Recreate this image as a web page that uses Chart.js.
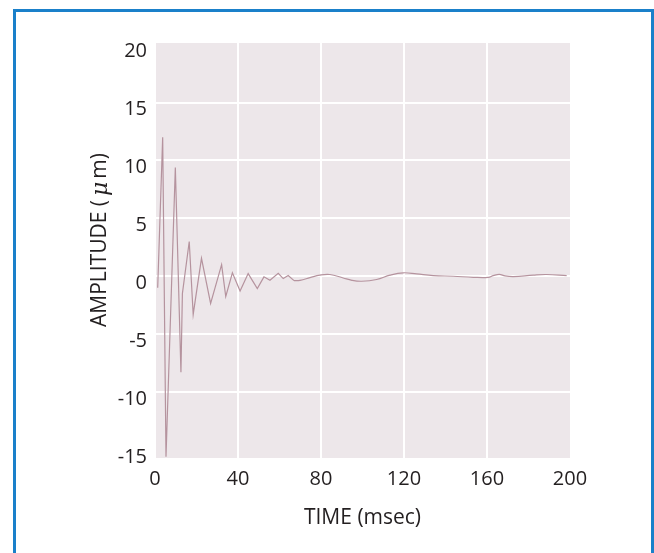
<!DOCTYPE html>
<html>
<head>
<meta charset="utf-8">
<script src="https://cdn.jsdelivr.net/npm/chart.js@4.4.1/dist/chart.umd.min.js"></script>
<style>
html,body{margin:0;padding:0;background:#fff;}
#wrap{position:relative;width:654px;height:553px;overflow:hidden;}
#frame{position:absolute;left:13px;top:9px;width:641px;height:620px;box-sizing:border-box;border:3px solid #1a80ca;}
#chart{position:absolute;left:0;top:0;}
</style>
</head>
<body>
<div id="wrap">
<div id="frame"></div>
<canvas id="chart" width="654" height="553"></canvas>
</div>
<script>

/* ---- data ---- */

// ringing part (sharp zigzag)
let ringTime = [1.3,3.7,5.3,9.8,12.5,13.2,16.5,18.4,22.4,26.8,32.1,34.1,37.3,41.0,44.9,49.3,52.5,55.4,59.4,61.8,64.2,67.0];
let ringAmp  = [-1.0,12.0,-15.6,9.4,-8.3,-1.5,3.0,-3.3,1.55,-2.35,1.0,-1.75,0.3,-1.27,0.23,-1.06,-0.05,-0.35,0.26,-0.2,0.06,-0.38];

// slow tail (smooth)
let tailTime = [67.0,69.9,74.7,79.5,84.3,90.7,94.9,99.6,106.8,113.3,119.7,126.1,134.1,143.8,153.4,160.6,163.0,165.9,168.7,172.7,182.3,188.7,198.4];
let tailAmp  = [-0.38,-0.35,-0.12,0.1,0.15,-0.15,-0.35,-0.43,-0.28,0.1,0.3,0.2,0.06,0.0,-0.09,-0.1,0.05,0.17,0.03,-0.03,0.1,0.15,0.06];

let xTicks = [0,40,80,120,160,200];
let yTicks = [-15,-10,-5,0,5,10,15,20];

let xTitle = "TIME (msec)";
let yTitleParts = ["AMPLITUDE (","\u03bc","m)"];

/* ---- helpers ---- */

function toPoints(xs,ys){
return xs.map((x,i)=>({x:x,y:ys[i]}));
}

let lineColor = "#b5939e";
let textColor = "#231f20";
let font = {family:"'Open Sans', sans-serif", size:20};
let titleFont = {family:"'Open Sans', sans-serif", size:21};

/* plot background */
let plotBg = {
id:"plotBg",
beforeDraw(chart){
let a = chart.chartArea;
let ctx = chart.ctx;
ctx.save();
ctx.fillStyle = "#ede7ea";
ctx.fillRect(a.left+1,a.top,a.right-a.left-1,a.bottom-a.top);
ctx.restore();
}
};

/* y title with italic mu */
let yTitle = {
id:"yTitle",
afterDraw(chart){
let ctx = chart.ctx;
let fonts = ["21px 'Open Sans'","italic 22px 'DejaVu Serif'","21px 'Open Sans'"];
let gaps = [4,3,0];
let total = 0;
yTitleParts.forEach((t,i)=>{
ctx.font = fonts[i];
total += ctx.measureText(t).width + gaps[i];
});
ctx.save();
ctx.translate(100,240);
ctx.rotate(-Math.PI/2);
ctx.fillStyle = textColor;
ctx.textBaseline = "middle";
let x = -total/2;
yTitleParts.forEach((t,i)=>{
ctx.font = fonts[i];
ctx.fillText(t,x,i===1 ? 1 : 0);
x += ctx.measureText(t).width + gaps[i];
});
ctx.restore();
}
};

let ctx = document.getElementById("chart");

new Chart(ctx,{

type:"line",

data:{
datasets:[{
data:toPoints(ringTime,ringAmp),
borderColor:lineColor,
borderWidth:1.2,
pointRadius:0,
tension:0,
fill:false
},{
data:toPoints(tailTime,tailAmp),
borderColor:lineColor,
borderWidth:1.2,
pointRadius:0,
tension:0.4,
fill:false
}]
},

options:{
responsive:false,
animation:false,
layout:{padding:{left:0,top:43,right:84,bottom:0}},
plugins:{
legend:{display:false},
tooltip:{enabled:false}
},
scales:{
x:{
type:"linear",
min:0,
max:200,
afterBuildTicks(scale){ scale.ticks = xTicks.map(v=>({value:v})); },
afterFit(scale){ scale.height = 95; },
grid:{
color:(c)=> (c.tick && (c.tick.value===0 || c.tick.value===200)) ? "rgba(0,0,0,0)" : "#ffffff",
lineWidth:2,
drawTicks:false
},
border:{display:false},
ticks:{color:textColor,font:font,padding:9,maxRotation:0},
title:{display:true,text:xTitle,color:textColor,font:titleFont,padding:{top:0,bottom:22}}
},
y:{
min:-15.7,
max:20.15,
afterBuildTicks(scale){ scale.ticks = yTicks.map(v=>({value:v})); },
afterFit(scale){ scale.width = 155; },
grid:{
color:(c)=> (c.tick && (c.tick.value===-15 || c.tick.value===20)) ? "rgba(0,0,0,0)" : "#ffffff",
lineWidth:2,
drawTicks:false
},
border:{display:false},
ticks:{color:textColor,font:font,padding:8,labelOffset:7}
}
}
},

plugins:[plotBg,yTitle]

});

</script>
</body>
</html>
